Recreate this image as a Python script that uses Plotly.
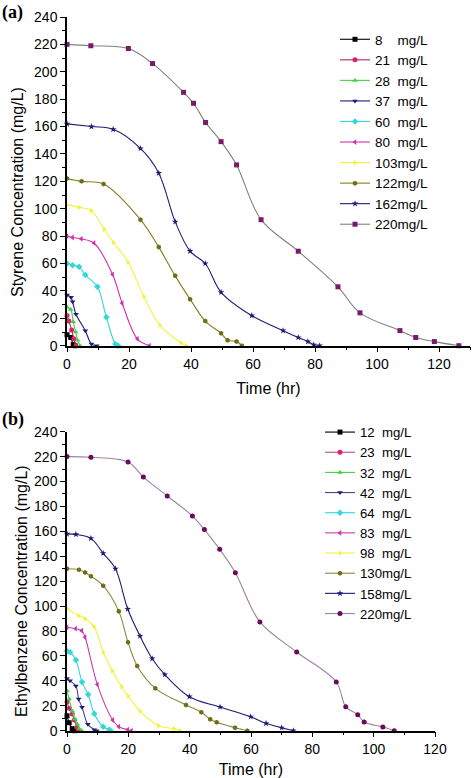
import plotly.graph_objects as go

W, H = 472, 778

# ---------------- Panel (a): Styrene ----------------
sty_labels = ["8\u00a0\u00a0\u00a0\u00a0mg/L", "21\u00a0\u00a0mg/L", "28\u00a0\u00a0mg/L", "37\u00a0\u00a0mg/L",
              "60\u00a0\u00a0mg/L", "80\u00a0\u00a0mg/L", "103mg/L", "122mg/L", "162mg/L", "220mg/L"]
sty_t_8 = [0, 1.2, 2.0, 2.6]
sty_c_8 = [8, 6, 0.8, 0]
sty_t_21 = [0, 0.6, 1.5, 2.2, 2.9]
sty_c_21 = [22, 18, 11.5, 5, 0]
sty_t_28 = [0, 1.2, 2.0, 2.8, 3.4, 4.2]
sty_c_28 = [28, 26.5, 17.5, 10, 4, 0]
sty_t_37 = [0, 1.3, 1.8, 2.9, 5.9, 7.9, 9.6]
sty_c_37 = [37, 35.3, 32, 23, 11, 1.2, 0]
sty_t_60 = [0, 1.8, 3.9, 5.9, 9.8, 12.7, 15.6, 16.5]
sty_c_60 = [60, 58.7, 57.7, 51.6, 43, 20.7, 1.2, 0]
sty_t_80 = [0, 1.8, 4.6, 8.7, 14.7, 17.8, 22.7, 26.6]
sty_c_80 = [80, 79, 78, 75, 52, 31, 5, 0]
sty_t_103 = [0, 3.9, 7.8, 12, 14.9, 19.7, 24.8, 29.9, 36.8, 38.4]
sty_c_103 = [103, 101, 98.6, 85, 75.5, 61, 36, 15, 2, 0]
sty_t_122 = [0, 4.7, 11.8, 23.7, 29.6, 34.9, 39.7, 44.6, 49.7, 51.8, 54.7, 56.4]
sty_c_122 = [122, 120, 118, 92, 72, 51, 34, 18, 9, 4, 3, 0]
sty_t_162 = [0, 7.9, 14.9, 23.7, 29.6, 34.9, 39.7, 44.6, 49.7, 59.6, 69.7, 74.6, 77.7, 79.6, 81.5]
sty_c_162 = [162, 160, 158, 144, 126, 90.5, 69, 60, 39, 22, 11, 6, 3, 0.7, 0]
sty_t_220 = [0, 7.7, 19.8, 27.6, 37.6, 40.8, 44.7, 49.7, 54.7, 62.6, 74.6, 87.4, 94.5, 107.4, 112.5, 118.5, 126.4]
sty_c_220 = [220, 219, 217, 206, 185, 177, 163, 149, 132, 92, 69, 43, 24, 11, 6, 3, 0]

# ---------------- Panel (b): Ethylbenzene ----------------
eb_labels = ["12\u00a0\u00a0mg/L", "23\u00a0\u00a0mg/L", "32\u00a0\u00a0mg/L", "42\u00a0\u00a0mg/L", "64\u00a0\u00a0mg/L",
             "83\u00a0\u00a0mg/L", "98\u00a0\u00a0mg/L", "130mg/L", "158mg/L", "220mg/L"]
eb_t_12 = [0, 0.7, 1.7, 2.5]
eb_c_12 = [12, 6.4, 1.6, 0]
eb_t_23 = [0, 0.7, 1.7, 2.4, 3.2, 3.8]
eb_c_23 = [23, 18, 13.4, 8.6, 2.7, 0]
eb_t_32 = [0, 0.7, 1.7, 2.6, 3.4, 4.0, 4.8]
eb_c_32 = [32, 25.4, 15.8, 9.4, 5.1, 1.6, 0]
eb_t_42 = [0, 1, 2.9, 3.8, 4.9, 6.8, 8.9, 9.7]
eb_c_42 = [42, 40, 35.9, 25.4, 18.8, 5.1, 0.8, 0]
eb_t_64 = [0, 1, 2.9, 4.9, 6.9, 8.9, 11.8, 13.8, 14.2]
eb_c_64 = [64, 63, 56.7, 39, 29, 13.6, 3.2, 0.8, 0]
eb_t_83 = [0, 2.8, 4.8, 5.9, 9.9, 14.9, 16.9, 19.8, 21]
eb_c_83 = [83, 81.9, 80.3, 75, 37, 8.6, 3.2, 0.8, 0]
eb_t_98 = [0, 3.8, 5.9, 8.8, 11.8, 14.8, 17.8, 19.9, 23.8, 29.8, 34.9, 36.9]
eb_c_98 = [98, 92.3, 90, 83.5, 63, 48, 35.3, 27.9, 15.8, 4, 1.6, 0]
eb_t_130 = [0, 3.9, 5.9, 7.8, 11.8, 16.9, 19.9, 22.9, 28.8, 38.8, 43.8, 46.7, 48.8, 54.8, 58.8]
eb_c_130 = [130, 129.2, 127, 124, 116.4, 95.8, 71, 52, 34, 20.6, 14.8, 9.2, 6.7, 2.4, 0]
eb_t_158 = [0, 2.9, 7.8, 11.8, 15.8, 19.8, 23.8, 27.8, 31.9, 39.9, 49.9, 59.9, 64.9, 70, 73.8]
eb_c_158 = [158, 157.6, 154.4, 142.4, 130, 97.7, 76, 57.8, 45, 27.3, 19, 11.2, 5.9, 2.4, 0]
eb_t_220 = [0, 7.8, 19.9, 24.9, 32.7, 40.9, 44.8, 49.8, 54.9, 62.9, 74.9, 87.8, 90.9, 94.8, 96.9, 103, 106.7]
eb_c_220 = [220, 219.5, 215.7, 203.6, 188.4, 172.3, 161.4, 145.6, 126.8, 87.3, 63.2, 39.1, 19.3, 12.8, 7, 3, 0]

# ---------------- styles ----------------
sty_series = [(sty_t_8, sty_c_8), (sty_t_21, sty_c_21), (sty_t_28, sty_c_28), (sty_t_37, sty_c_37),
              (sty_t_60, sty_c_60), (sty_t_80, sty_c_80), (sty_t_103, sty_c_103), (sty_t_122, sty_c_122),
              (sty_t_162, sty_c_162), (sty_t_220, sty_c_220)]
eb_series = [(eb_t_12, eb_c_12), (eb_t_23, eb_c_23), (eb_t_32, eb_c_32), (eb_t_42, eb_c_42),
             (eb_t_64, eb_c_64), (eb_t_83, eb_c_83), (eb_t_98, eb_c_98), (eb_t_130, eb_c_130),
             (eb_t_158, eb_c_158), (eb_t_220, eb_c_220)]

sty_line_colors = ["#000000", "#B02A5A", "#44D044", "#1C1C78", "#30D8D8", "#D030B0", "#F2F23C", "#808020", "#1C1C78", "#808080"]
sty_mark_colors = ["#000000", "#E0206A", "#44D044", "#1C1C78", "#30D8D8", "#D030B0", "#F2F23C", "#6E6E18", "#1C1C78", "#7A1A6A"]
eb_line_colors = ["#000000", "#B05088", "#44D044", "#4A4A80", "#30D8D8", "#C040A8", "#F2F23C", "#8A8A40", "#1C1C78", "#A080A8"]
eb_mark_colors = ["#000000", "#E0206A", "#44D044", "#1C1C78", "#30D8D8", "#D030B0", "#F2F23C", "#6E6E18", "#1C1C78", "#6A0A5A"]
sty_symbols = ["square", "circle", "triangle-up", "triangle-down", "diamond", "triangle-left",
               "triangle-right", "hexagon", "star", "square"]
eb_symbols = ["square", "circle", "triangle-up", "triangle-down", "diamond", "triangle-left",
              "triangle-right", "hexagon", "star", "circle"]

FONT = "Arial"
SERIF = "Liberation Serif"
fig = go.Figure()

for i, (t, c) in enumerate(sty_series):
    fig.add_trace(go.Scatter(
        x=t, y=c, mode="lines+markers", name=sty_labels[i], xaxis="x", yaxis="y", legend="legend",
        line=dict(color=sty_line_colors[i], width=1.1, shape="spline", smoothing=1.0),
        marker=dict(color=sty_mark_colors[i], symbol=sty_symbols[i], size=5),
        cliponaxis=False))

for i, (t, c) in enumerate(eb_series):
    fig.add_trace(go.Scatter(
        x=t, y=c, mode="lines+markers", name=eb_labels[i], xaxis="x2", yaxis="y2", legend="legend2",
        line=dict(color=eb_line_colors[i], width=1.1, shape="spline", smoothing=1.0),
        marker=dict(color=eb_mark_colors[i], symbol=eb_symbols[i], size=5),
        cliponaxis=False))

def px_x(p):
    return p / W

def px_y(p):
    return 1 - p / H

axis_common = dict(showline=True, linecolor="black", linewidth=1.5, ticks="outside", ticklen=5,
                   tickwidth=1.2, tickcolor="black", showgrid=False, zeroline=False, automargin=False,
                   tickfont=dict(family=FONT, size=14, color="black"))
minor_ticks = dict(dtick=10, ticks="outside", ticklen=3, tickcolor="black", showgrid=False)

fig.update_layout(
    width=W, height=H, margin=dict(l=0, r=0, t=0, b=0),
    paper_bgcolor="white", plot_bgcolor="white",
    font=dict(family=FONT, color="black"),
    xaxis=dict(domain=[px_x(67), px_x(470)], anchor="y", range=[0, 130], tick0=0, dtick=20,
               minor=minor_ticks,
               title=dict(text="Time (hr)", font=dict(family=FONT, size=16), standoff=12), **axis_common),
    yaxis=dict(domain=[px_y(345.7), px_y(17)], anchor="x", range=[0, 240], tick0=0, dtick=20,
               minor=minor_ticks, **axis_common),
    xaxis2=dict(domain=[px_x(67), px_x(435)], anchor="y2", range=[0, 120], tick0=0, dtick=20,
                minor=minor_ticks,
                title=dict(text="Time (hr)", font=dict(family=FONT, size=16), standoff=11), **axis_common),
    yaxis2=dict(domain=[px_y(730.7), px_y(431.7)], anchor="x2", range=[0, 240], tick0=0, dtick=20,
                minor=minor_ticks, **axis_common),
    legend=dict(x=px_x(335), y=px_y(24), xanchor="left", yanchor="top", bgcolor="rgba(0,0,0,0)",
                font=dict(family=FONT, size=13.5), tracegroupgap=0, itemwidth=30),
    legend2=dict(x=px_x(320), y=px_y(417), xanchor="left", yanchor="top", bgcolor="rgba(0,0,0,0)",
                 font=dict(family=FONT, size=13.2), tracegroupgap=0, itemwidth=30),
    annotations=[
        dict(text="Styrene Concentration (mg/L)", x=px_x(17), y=px_y(192), xref="paper", yref="paper",
             xanchor="center", yanchor="middle", textangle=-90, showarrow=False,
             font=dict(family=FONT, size=16)),
        dict(text="Ethylbenzene Concentration (mg/L)", x=px_x(21), y=px_y(591), xref="paper", yref="paper",
             xanchor="center", yanchor="middle", textangle=-90, showarrow=False,
             font=dict(family=FONT, size=16)),
        dict(text="<b>(a)</b>", x=0, y=px_y(12), xref="paper", yref="paper", xanchor="left", yanchor="middle",
             showarrow=False, font=dict(family=SERIF, size=18)),
        dict(text="<b>(b)</b>", x=0, y=px_y(419), xref="paper", yref="paper", xanchor="left", yanchor="middle",
             showarrow=False, font=dict(family=SERIF, size=18)),
    ],
)

fig.write_html("out.html", config={"displayModeBar": False},
               post_script="document.body.style.margin='0px';document.body.style.padding='0px';")
